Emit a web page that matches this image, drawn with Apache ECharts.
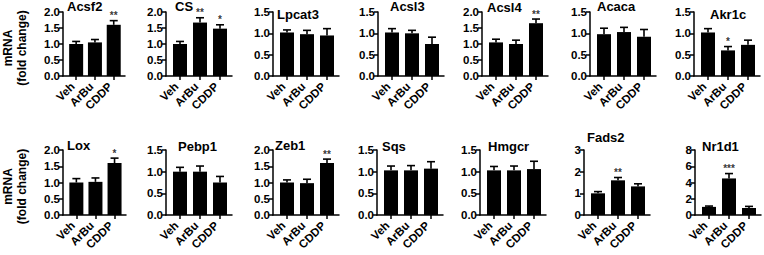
<!DOCTYPE html>
<html>
<head>
<meta charset="utf-8">
<script src="https://cdn.jsdelivr.net/npm/echarts@6/dist/echarts.min.js"></script>
<style>
  html, body { margin: 0; padding: 0; background: #fff; }
  #chart { width: 764px; height: 255px; }
</style>
</head>
<body>
<div id="chart"></div>
<script>
// qPCR panels, two rows of seven; mean + upper SEM whisker, stars over significant bars
const groups = ['Veh', 'ArBu', 'CDDP'];
const genes = ['Acsf2', 'CS', 'Lpcat3', 'Acsl3', 'Acsl4', 'Acaca', 'Akr1c',
               'Lox', 'Pebp1', 'Zeb1', 'Sqs', 'Hmgcr', 'Fads2', 'Nr1d1'];
const meanValues = [
  [1.0, 1.05, 1.6], [1.0, 1.67, 1.48], [1.02, 0.98, 0.95], [1.02, 1.0, 0.75],
  [1.05, 1.0, 1.65], [0.98, 1.03, 0.92], [1.02, 0.6, 0.73],
  [1.0, 1.02, 1.6], [1.0, 1.0, 0.75], [1.0, 0.98, 1.6], [1.03, 1.03, 1.07],
  [1.03, 1.03, 1.06], [1.0, 1.6, 1.32], [1.0, 4.5, 0.86],
];
const semValues = [
  [0.08, 0.09, 0.13], [0.08, 0.15, 0.12], [0.06, 0.09, 0.16], [0.09, 0.07, 0.16],
  [0.1, 0.12, 0.13], [0.14, 0.11, 0.17], [0.09, 0.09, 0.11],
  [0.12, 0.12, 0.15], [0.1, 0.13, 0.14], [0.08, 0.12, 0.12], [0.1, 0.11, 0.16],
  [0.09, 0.1, 0.18], [0.08, 0.13, 0.12], [0.1, 0.6, 0.2],
];
const starLabels = [
  ['', '', '**'], ['', '**', '*'], ['', '', ''], ['', '', ''],
  ['', '', '**'], ['', '', ''], ['', '*', ''],
  ['', '', '*'], ['', '', ''], ['', '', '**'], ['', '', ''],
  ['', '', ''], ['', '**', ''], ['', '***', ''],
];
const yMax = [2, 2, 1.5, 1.5, 2, 1.5, 1.5, 2, 1.5, 2, 1.5, 1.5, 3, 8];
const yStep = [0.5, 0.5, 0.5, 0.5, 0.5, 0.5, 0.5, 0.5, 0.5, 0.5, 0.5, 0.5, 1, 2];

// layout (pixels)
const gridLeft = [59, 166, 273, 378, 482, 590, 694, 60, 166, 273, 377, 480, 584, 695];
const titleLeft = [67, 175, 277, 390, 487, 597, 710, 67, 178, 275, 382, 488, 587, 702];
const titleMid = [6, 7, 15, 7, 8, 7, 15, 146, 147, 146, 147, 147, 138, 147];
const FONT = '"Liberation Sans", Arial, sans-serif';

const chart = echarts.init(document.getElementById('chart'), null, { renderer: 'svg' });

const grid = [], xAxis = [], yAxis = [], series = [], title = [];
genes.forEach((g, i) => {
  const row = i < 7 ? 0 : 1;
  grid.push({ left: gridLeft[i], top: row ? 150 : 12, width: 66, height: row ? 65 : 64 });
  title.push({
    text: g, left: titleLeft[i], top: Math.max(0, titleMid[i] - 7), padding: 0,
    textStyle: { fontSize: 13, fontWeight: 'bold', color: '#000', fontFamily: FONT },
  });
  xAxis.push({
    gridIndex: i, type: 'value', min: -0.7, max: 2.6,
    axisLine: { show: true, onZero: false, lineStyle: { color: '#000', width: 1.5 } },
    axisTick: { show: true, customValues: [0, 1, 2], length: 4, lineStyle: { color: '#000', width: 1.5 } },
    axisLabel: {
      customValues: [0, 1, 2], formatter: (v) => groups[v], rotate: 45, margin: 5,
      padding: [0, 5, 0, 0],
      fontSize: 11.5, fontWeight: 'bold', color: '#000', fontFamily: FONT,
    },
    splitLine: { show: false },
  });
  yAxis.push({
    gridIndex: i, type: 'value', min: 0, max: yMax[i], interval: yStep[i],
    name: (i === 0 || i === 7) ? 'mRNA\n(fold change)' : '',
    nameLocation: 'middle', nameGap: 34,
    nameTextStyle: { fontSize: 12, fontWeight: 'bold', color: '#000', fontFamily: FONT, lineHeight: 14, padding: [0, 8, 0, 0] },
    axisLine: { show: true, onZero: false, lineStyle: { color: '#000', width: 1.5 } },
    axisTick: { show: true, length: 4, lineStyle: { color: '#000', width: 1.5 } },
    axisLabel: {
      formatter: (v) => yStep[i] < 1 ? v.toFixed(1) : String(v), margin: 3,
      fontSize: 11.5, fontWeight: 'bold', color: '#000', fontFamily: FONT,
    },
    splitLine: { show: false },
  });
  series.push({
    type: 'bar', xAxisIndex: i, yAxisIndex: i, barWidth: 14, silent: true,
    itemStyle: { color: '#000' },
    data: meanValues[i].map((m, k) => [k, m]),
  });
  // upper whisker with cap
  series.push({
    type: 'custom', xAxisIndex: i, yAxisIndex: i, silent: true, clip: false,
    itemStyle: { color: '#000' },
    data: meanValues[i].map((m, k) => [k, m, semValues[i][k]]),
    renderItem: (params, api) => {
      const x = api.value(0), m = api.value(1), e = api.value(2);
      const base = api.coord([x, m]);
      const top = api.coord([x, m + e]);
      const stroke = { stroke: '#000', lineWidth: 1.6 };
      return {
        type: 'group',
        children: [
          { type: 'line', shape: { x1: base[0], y1: base[1], x2: top[0], y2: top[1] }, style: stroke },
          { type: 'line', shape: { x1: top[0] - 4, y1: top[1], x2: top[0] + 4, y2: top[1] }, style: stroke },
        ],
      };
    },
  });
  // significance stars, sitting just above the whisker
  series.push({
    type: 'scatter', xAxisIndex: i, yAxisIndex: i, silent: true, symbolSize: 0,
    itemStyle: { color: '#000' },
    data: meanValues[i]
      .map((m, k) => [k, m + semValues[i][k], starLabels[i][k]])
      .filter((d) => d[2]),
    label: {
      show: true, position: 'top', distance: 0, formatter: (p) => p.value[2],
      color: '#000', fontSize: 10, fontWeight: 'bold', fontFamily: FONT,
    },
  });
});

chart.setOption({
  animation: false,
  backgroundColor: '#fff',
  title, grid, xAxis, yAxis, series,
});
</script>
</body>
</html>
